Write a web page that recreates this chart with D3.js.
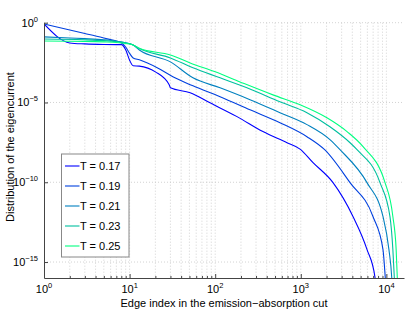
<!DOCTYPE html>
<html>
<head>
<meta charset="utf-8">
<script src="https://cdn.jsdelivr.net/npm/d3@7"></script>
<style>
  body { margin: 0; background: #fff; }
  svg { display: block; font-family: "Liberation Sans", Arial, sans-serif; }
</style>
</head>
<body>
<svg></svg>
<script>
// series values (edge index, distribution)
const x17 = [1, 2, 3, 5, 7, 8, 9, 10, 11, 13, 20, 29, 30, 51, 87, 180, 361, 690, 980, 1390, 2380, 4070, 5930, 7360, 7700]
const y17 = [0.83, 0.054, 0.047, 0.043, 0.042, 0.042, 0.02, 4.5e-3, 2.0e-3, 1.9e-3, 8.3e-4, 1.3e-4, 8.3e-5, 4.1e-5, 9.5e-6, 1.3e-6, 1.5e-7, 3.0e-8, 1.2e-8, 1.7e-9, 9.5e-11, 7.2e-13, 6.2e-15, 1.1e-16, 1e-17]

const x19 = [1, 2, 3, 4, 5, 6, 7, 8, 9, 10, 11, 13, 21, 32, 55, 114, 255, 571, 1180, 1900, 3760, 6970, 9120, 9700, 10000]
const y19 = [0.83, 0.35, 0.21, 0.148, 0.11, 0.087, 0.072, 0.055, 0.03, 0.012, 6.2e-3, 4.7e-3, 1.5e-3, 4.1e-4, 1.1e-4, 2.3e-5, 3.5e-6, 5.4e-7, 7.2e-8, 1.1e-8, 9.5e-11, 7.2e-13, 6.2e-15, 1.1e-16, 1e-17]

const x21 = [1, 2, 3, 5, 7, 9, 11, 13, 30, 55, 114, 255, 571, 1180, 2190, 2870, 5930, 9120, 10700, 11540, 11800]
const y21 = [0.129, 0.11, 0.1, 0.085, 0.07, 0.055, 0.04, 0.0195, 3.5e-3, 3.5e-4, 8.3e-5, 1.5e-5, 2.3e-6, 4.1e-7, 4.7e-8, 1.1e-8, 9.5e-11, 7.2e-13, 6.2e-15, 1.1e-16, 1e-17]

const x23 = [1, 3, 5, 7, 9, 11, 13, 30, 55, 114, 235, 571, 1180, 2190, 3760, 4540, 8420, 11000, 11900, 12370, 12600]
const y23 = [0.095, 0.085, 0.075, 0.065, 0.055, 0.04, 0.024, 6.2e-3, 1.5e-3, 3.5e-4, 8.3e-5, 1.1e-5, 2.3e-6, 3.0e-7, 3.0e-8, 1.1e-8, 9.5e-11, 7.2e-13, 6.2e-15, 1.1e-16, 1e-17]

const x25 = [1, 3, 5, 7, 9, 11, 13, 30, 51, 100, 195, 473, 980, 2020, 3470, 5340, 9640, 11900, 13000, 13400, 13600]
const y25 = [0.072, 0.068, 0.063, 0.058, 0.05, 0.04, 0.025, 9.5e-3, 3.0e-3, 8.3e-4, 1.95e-4, 3.0e-5, 7.2e-6, 1.1e-6, 1.5e-7, 1.7e-8, 9.5e-11, 7.2e-13, 6.2e-15, 1.1e-16, 1e-17]

const labels = ['T = 0.17', 'T = 0.19', 'T = 0.21', 'T = 0.23', 'T = 0.25']
const colors = ['#0000ff', '#0040df', '#0080bf', '#00bf9f', '#00ff80']

const xTicks = [1e0, 1e1, 1e2, 1e3, 1e4]
const xTickExp = ['0', '1', '2', '3', '4']
const yTicks = [1e0, 1e-5, 1e-10, 1e-15]
const yTickExp = ['0', '\u22125', '\u221210', '\u221215']

const w = 405
const h = 313
const padL = 44, padR = 404, padT = 22.7, padB = 278

let svg = d3.select('svg').attr('width', w).attr('height', h)

let series = [[x17, y17], [x19, y19], [x21, y21], [x23, y23], [x25, y25]]
  .map((s, i) => ({ label: labels[i], color: colors[i], pts: s[0].map((x, j) => [x, s[1][j]]) }))

let xScale = d3.scaleLog().domain([1, 16060]).range([padL, padR])
let yScale = d3.scaleLog().domain([1e-16, 1]).range([padB, padT])

// grid
let minorX = []
for (let d = 1; d <= 1e4; d *= 10) {
  for (let k = 1; k <= 9; k++) {
    let v = d * k
    if (v > 1 && v <= 16060) minorX.push(v)
  }
}
let grid = svg.append('g').attr('stroke', '#c8c8c8').attr('stroke-width', 0.8).attr('stroke-dasharray', '1,2')
grid.selectAll('line.gx').data(minorX).enter().append('line')
  .attr('x1', d => xScale(d)).attr('x2', d => xScale(d))
  .attr('y1', padT).attr('y2', padB)
grid.selectAll('line.gy').data(yTicks).enter().append('line')
  .attr('x1', padL).attr('x2', padR)
  .attr('y1', d => yScale(d)).attr('y2', d => yScale(d))

// curves
svg.append('clipPath').attr('id', 'clip').append('rect')
  .attr('x', padL).attr('y', padT - 2).attr('width', padR - padL).attr('height', padB - padT + 2)

let line = d3.line().x(d => xScale(d[0])).y(d => yScale(d[1])).curve(d3.curveMonotoneX)

svg.append('g').attr('clip-path', 'url(#clip)')
  .selectAll('path').data(series).enter().append('path')
  .attr('d', d => line(d.pts))
  .attr('fill', 'none')
  .attr('stroke', d => d.color)
  .attr('stroke-width', 1.1)

// axes
let xAxis = d3.axisBottom(xScale).tickValues(minorX).tickSizeInner(-3).tickSizeOuter(0).tickFormat('')
let yAxis = d3.axisLeft(yScale).tickValues(yTicks).tickSizeInner(-4).tickSizeOuter(0).tickFormat('')

let gx = svg.append('g').attr('transform', 'translate(0,' + padB + ')').call(xAxis)
gx.selectAll('.tick line').attr('y2', d => xTicks.includes(d) ? -4 : -2)
let gy = svg.append('g').attr('transform', 'translate(' + padL + ',0)').call(yAxis)
svg.selectAll('.domain').attr('stroke', '#444').attr('stroke-width', 1)
svg.selectAll('.tick line').attr('stroke', '#444')

let xl = svg.append('g').selectAll('text').data(xTicks).enter().append('text')
  .attr('x', d => xScale(d)).attr('y', 293)
  .attr('text-anchor', 'middle').attr('font-size', 11).attr('fill', '#000')
xl.append('tspan').text('10')
xl.append('tspan').attr('dy', -5).attr('font-size', 7.5).text((d, i) => xTickExp[i])

let yl = svg.append('g').selectAll('text').data(yTicks).enter().append('text')
  .attr('x', 38).attr('y', d => yScale(d) + 4)
  .attr('text-anchor', 'end').attr('font-size', 11).attr('fill', '#000')
yl.append('tspan').text('10')
yl.append('tspan').attr('dy', -5).attr('font-size', 7.5).text((d, i) => yTickExp[i])

// axis titles
svg.append('text')
  .attr('x', (padL + padR) / 2).attr('y', 307)
  .attr('text-anchor', 'middle').attr('font-size', 11)
  .text('Edge index in the emission\u2212absorption cut')

svg.append('text')
  .attr('transform', 'translate(14,' + 147 + ') rotate(-90)')
  .attr('text-anchor', 'middle').attr('font-size', 11)
  .text('Distribution of the eigencurrent')

// legend
let legend = svg.append('g').attr('transform', 'translate(61.5,154)')
legend.append('rect').attr('width', 67.5).attr('height', 103)
  .attr('fill', '#fff').attr('stroke', '#888').attr('stroke-width', 1)
let item = legend.selectAll('g.item').data(series).enter().append('g')
  .attr('transform', (d, i) => 'translate(0,' + (12 + i * 20) + ')')
item.append('line').attr('x1', 3.5).attr('x2', 18).attr('y1', 0).attr('y2', 0)
  .attr('stroke', d => d.color).attr('stroke-width', 1.1)
item.append('text').attr('x', 18.5).attr('y', 4).attr('font-size', 11).text(d => d.label)
</script>
</body>
</html>
